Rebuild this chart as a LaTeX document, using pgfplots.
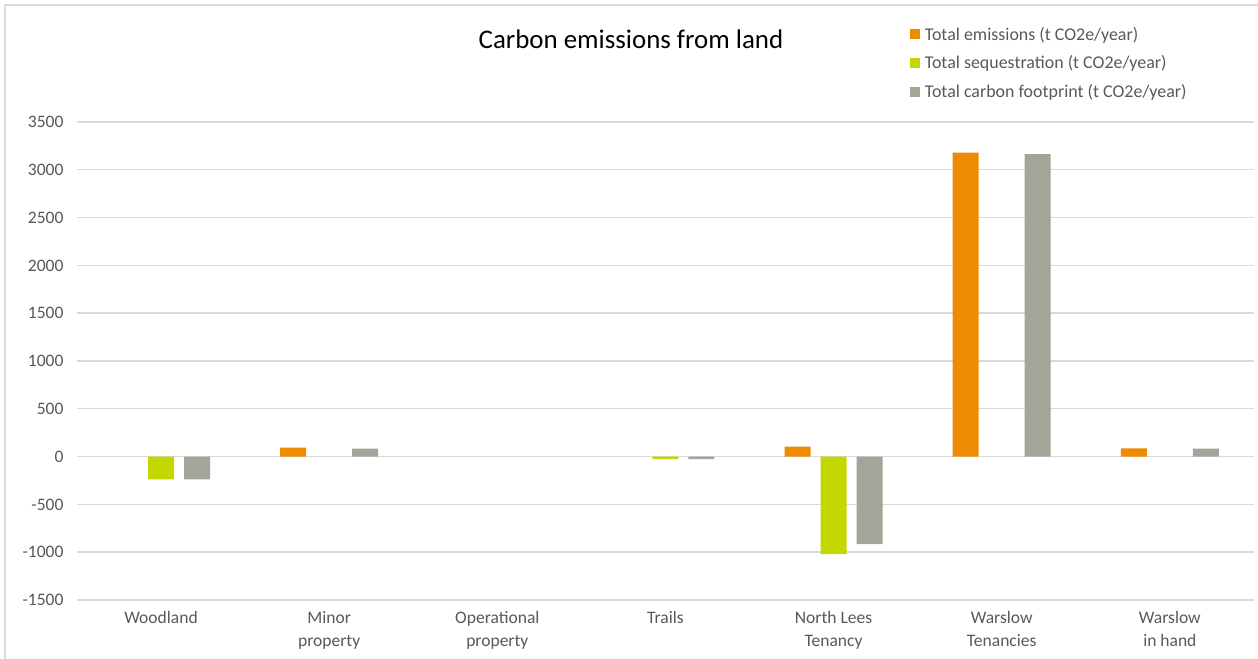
\documentclass[border=0pt]{standalone}
\usepackage{pgfplots}
\pgfplotsset{compat=1.18}
\usepackage{fontspec}
\setmainfont{Carlito}
\definecolor{cEm}{HTML}{EE8B00}
\definecolor{cSeq}{HTML}{C5D700}
\definecolor{cFp}{HTML}{A3A598}
\definecolor{cGrid}{HTML}{D9D9D9}
\definecolor{cTxt}{HTML}{595959}
\begin{document}
\begin{tikzpicture}
\useasboundingbox (0,0) rectangle (1258bp,659bp);
\fill[white] (0,0) rectangle (1258bp,659bp);
\draw[cGrid, line width=2bp] (5bp,-10bp) -- (5bp,654bp) -- (1270bp,654bp);
\node[font=\fontsize{27}{32}\selectfont, text=black] at (631bp,620bp) {Carbon emissions from land};
\begin{axis}[
  at={(77bp,59bp)}, anchor=south west,
  scale only axis, width=1177bp, height=478bp,
  xmin=-0.5, xmax=6.5, ymin=-1500, ymax=3500,
  ytick={-1500,-1000,...,3500},
  xtick={0,...,6},
  xticklabels={Woodland,{Minor\\property},{Operational\\property},Trails,{North Lees\\Tenancy},{Warslow\\Tenancies},{Warslow\\in hand}},
  xticklabel style={align=center, font=\fontsize{17.6}{23}\selectfont, text=cTxt, yshift=-8bp},
  yticklabel style={font=\fontsize{17.6}{20}\selectfont, text=cTxt, xshift=-10bp},
  /pgf/number format/assume math mode=true,
  /pgf/number format/1000 sep={},
  axis line style={draw=none},
  major tick length=0pt,
  ymajorgrids, grid style={cGrid, line width=1.4bp},
  ybar=10bp, bar width=26bp,
  legend style={at={(0.7075,1.203)}, anchor=north west, draw=none, fill=none,
    font=\fontsize{18}{21}\selectfont, text=cTxt, row sep=10bp,
    legend cell align=left, inner sep=0pt},
  legend image code/.code={\fill[#1] (0bp,-5bp) rectangle (10bp,5bp); \path (0bp,0bp) -- (13bp,0bp);},
]
\addplot[fill=cEm, draw=none] coordinates {(1,94) (4,105) (5,3180) (6,86)};
\addplot[fill=cSeq, draw=none] coordinates {(0,-237) (3,-27) (4,-1021)};
\addplot[fill=cFp, draw=none] coordinates {(0,-237) (1,84) (3,-27) (4,-916) (5,3163) (6,84)};
\legend{Total emissions (t CO2e/year),Total sequestration (t CO2e/year),Total carbon footprint (t CO2e/year)}
\end{axis}
\end{tikzpicture}
\end{document}
